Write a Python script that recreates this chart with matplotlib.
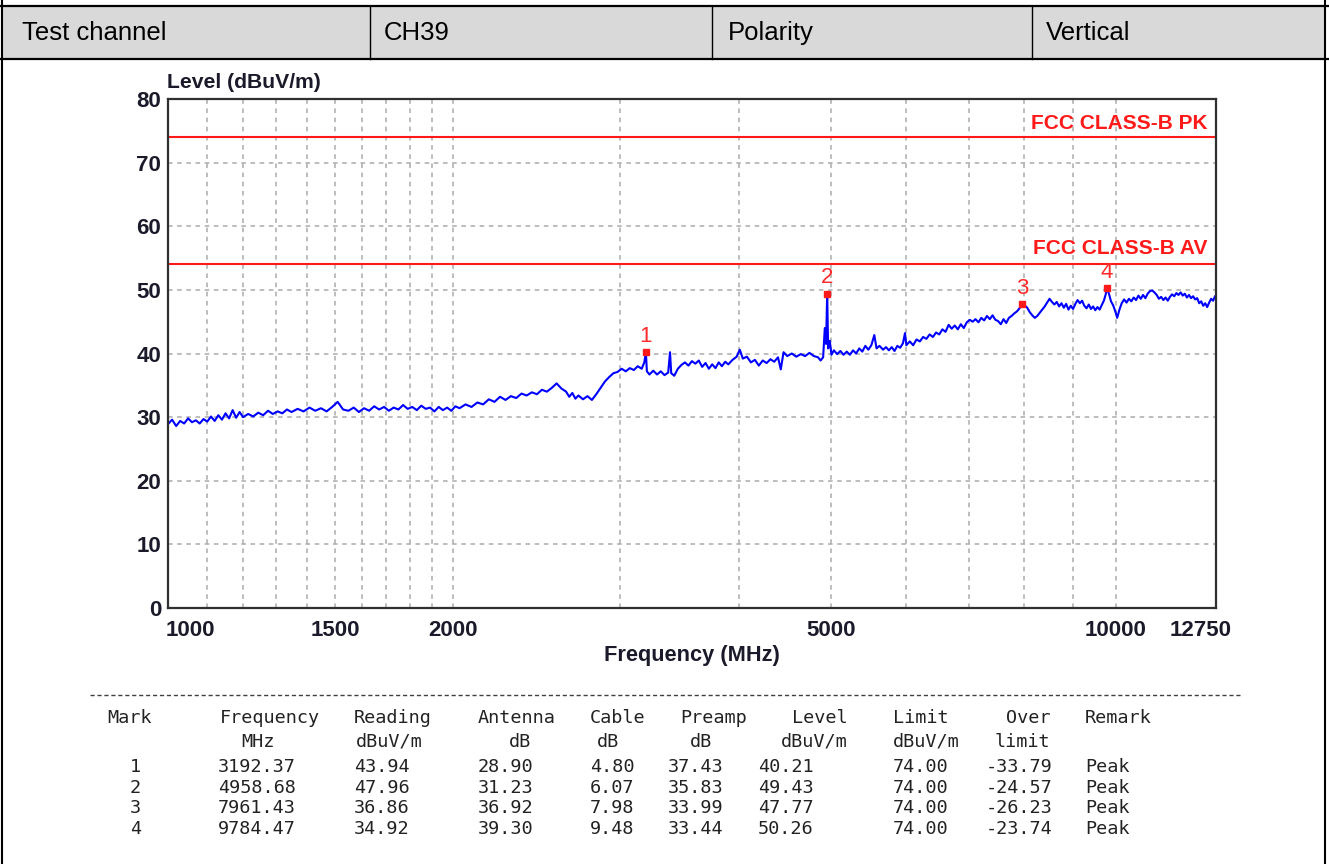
import matplotlib
matplotlib.use("Agg")
import matplotlib.pyplot as plt
from matplotlib.patches import Rectangle
from matplotlib.ticker import FixedLocator, NullFormatter
from matplotlib.transforms import ScaledTranslation, blended_transform_factory

W, H = 1329, 864

# header row of the report
header_cells = ["Test channel", "CH39", "Polarity", "Vertical"]

freq_mhz = [
    1000, 1010, 1020, 1030, 1040, 1050, 1060, 1070, 1080, 1090,
    1100, 1110, 1120, 1130, 1140, 1150, 1160, 1170, 1180, 1190,
    1200, 1215, 1230, 1245, 1260, 1275, 1290, 1305, 1320, 1335,
    1350, 1370, 1390, 1410, 1430, 1450, 1470, 1490, 1510, 1530,
    1550, 1570, 1590, 1610, 1630, 1650, 1670, 1690, 1710, 1730,
    1750, 1770, 1790, 1810, 1830, 1850, 1870, 1890, 1910, 1930,
    1950, 1970, 1990, 2010, 2030, 2060, 2090, 2120, 2150, 2180,
    2210, 2240, 2270, 2300, 2330, 2360, 2390, 2420, 2450, 2480,
    2510, 2540, 2570, 2600, 2630, 2650, 2670, 2690, 2710, 2740,
    2770, 2800, 2830, 2860, 2890, 2920, 2950, 2980, 3010, 3040,
    3070, 3100, 3130, 3160, 3180, 3192.37, 3200, 3220, 3250, 3280,
    3310, 3340, 3370, 3385, 3395, 3420, 3450, 3480, 3510, 3540,
    3570, 3600, 3630, 3660, 3690, 3720, 3750, 3780, 3810, 3840,
    3870, 3900, 3940, 3980, 4010, 4040, 4080, 4120, 4160, 4200,
    4240, 4280, 4320, 4360, 4400, 4430, 4460, 4500, 4550, 4600,
    4650, 4700, 4750, 4800, 4850, 4880, 4910, 4930, 4945, 4958.68,
    4970, 4990, 5010, 5040, 5080, 5120, 5160, 5200, 5240, 5280,
    5320, 5360, 5400, 5440, 5480, 5520, 5560, 5590, 5630, 5680,
    5720, 5760, 5800, 5840, 5880, 5920, 5960, 5990, 6010, 6060,
    6110, 6160, 6210, 6260, 6310, 6360, 6410, 6460, 6510, 6560,
    6610, 6660, 6710, 6760, 6810, 6860, 6910, 6960, 7010, 7060,
    7110, 7160, 7210, 7260, 7310, 7360, 7410, 7460, 7510, 7560,
    7610, 7660, 7710, 7760, 7810, 7860, 7910, 7961.43, 8010, 8060,
    8110, 8160, 8210, 8260, 8310, 8360, 8410, 8460, 8510, 8560,
    8610, 8660, 8710, 8760, 8810, 8860, 8910, 8960, 9010, 9060,
    9110, 9160, 9210, 9260, 9310, 9360, 9410, 9460, 9510, 9560,
    9610, 9660, 9710, 9750, 9784.47, 9830, 9880, 9930, 9980, 10030,
    10080, 10140, 10200, 10260, 10320, 10380, 10440, 10500, 10560, 10620,
    10680, 10740, 10800, 10860, 10920, 10980, 11040, 11100, 11160, 11220,
    11280, 11340, 11400, 11460, 11520, 11580, 11640, 11700, 11760, 11820,
    11880, 11940, 12000, 12060, 12120, 12180, 12240, 12300, 12360, 12420,
    12480, 12540, 12600, 12660, 12720, 12750,
]
level_dbuv = [
    28.9, 29.6, 28.6, 29.4, 29.0, 29.8, 29.2, 29.5, 29.0, 29.7,
    29.3, 30.1, 29.4, 30.3, 29.6, 30.6, 29.8, 31.1, 29.9, 30.8,
    30.0, 30.5, 30.1, 30.7, 30.3, 31.0, 30.5, 30.9, 30.6, 31.2,
    30.8, 31.3, 30.9, 31.5, 31.0, 31.4, 30.9, 31.6, 32.4, 31.2,
    31.0, 31.5, 30.8, 31.4, 31.0, 31.7, 31.2, 31.6, 31.0, 31.5,
    31.2, 31.9, 31.3, 31.6, 31.1, 31.8, 31.3, 31.5, 30.9, 31.6,
    31.1, 31.5, 31.0, 31.7, 31.4, 32.0, 31.6, 32.3, 32.0, 32.8,
    32.4, 33.2, 32.7, 33.3, 33.0, 33.7, 33.4, 33.9, 33.6, 34.3,
    34.0, 34.6, 35.3, 34.5, 34.0, 33.2, 33.8, 32.9, 33.4, 32.8,
    33.3, 32.7, 33.6, 34.6, 35.6, 36.3, 36.9, 37.1, 37.6, 37.2,
    37.7, 37.4, 38.0, 37.6, 38.6, 40.21, 37.2, 36.7, 37.3, 36.7,
    37.2, 36.6, 37.0, 40.2, 36.9, 36.5, 37.6, 38.2, 38.6, 38.1,
    38.8, 38.4, 38.9, 37.9, 38.5, 37.6, 38.3, 37.7, 38.6, 38.0,
    38.7, 38.3, 39.0, 39.5, 40.6, 39.2, 39.5, 38.6, 39.0, 38.1,
    38.9, 38.5, 39.1, 38.7, 39.4, 37.5, 40.2, 39.6, 40.0, 39.5,
    39.9, 39.6, 40.1, 39.6, 39.4, 38.9, 39.4, 44.0, 41.5, 49.43,
    40.8, 42.0, 39.8, 40.5, 39.9, 40.4, 39.8, 40.3, 39.8, 40.5,
    40.0, 40.8, 40.3, 41.2, 40.6, 41.3, 42.9, 40.8, 41.2, 40.6,
    41.0, 40.5, 41.0, 40.4, 41.2, 40.9, 41.6, 43.2, 41.3, 41.9,
    41.3, 42.2, 41.9, 42.6, 42.3, 43.0, 42.6, 43.3, 43.0, 43.8,
    43.4, 44.5, 43.9, 44.4, 43.8, 44.6, 44.0, 44.9, 45.3, 45.0,
    45.4, 44.9, 45.6, 45.2, 45.9, 45.4, 46.0, 45.3, 45.1, 44.6,
    45.4, 44.8, 45.6, 45.9, 46.3, 46.6, 47.1, 47.77, 47.6, 47.2,
    46.5, 46.0, 45.6, 45.9, 46.4, 46.9, 47.4, 48.0, 48.6, 48.1,
    47.7, 48.1, 47.4, 47.9, 47.2, 47.8, 46.9, 47.5, 47.0, 47.8,
    48.4, 47.9, 48.3, 47.5, 47.1, 47.7, 47.0, 47.4, 46.8, 47.3,
    46.9, 47.6, 48.3, 49.2, 50.26, 49.4, 48.2, 47.6, 46.7, 45.6,
    46.8, 47.9, 48.5, 48.0, 48.6, 48.2, 48.8, 48.4, 49.1, 48.6,
    49.2, 48.7, 49.4, 49.8, 49.9, 49.6, 49.2, 48.6, 48.9, 48.4,
    48.8, 48.3, 48.9, 49.3, 49.0, 49.5, 49.2, 49.6, 49.1, 49.4,
    48.8, 49.2, 48.7, 49.0, 48.5, 48.7, 47.9, 48.2, 47.5, 47.9,
    47.3, 48.0, 48.6, 48.3, 49.0, 49.1,
]

limit_pk = 74.0
limit_av = 54.0

x_ticks = [1000, 1500, 2000, 5000, 10000, 12750]
x_minor = [1100, 1200, 1300, 1400, 1600, 1700, 1800, 1900,
           3000, 4000, 6000, 7000, 8000, 9000]
y_ticks = [0, 10, 20, 30, 40, 50, 60, 70, 80]

# marker table
mark_no = [1, 2, 3, 4]
mark_freq = [3192.37, 4958.68, 7961.43, 9784.47]
mark_reading = [43.94, 47.96, 36.86, 34.92]
mark_antenna = [28.90, 31.23, 36.92, 39.30]
mark_cable = [4.80, 6.07, 7.98, 9.48]
mark_preamp = [37.43, 35.83, 33.99, 33.44]
mark_level = [40.21, 49.43, 47.77, 50.26]
mark_limit = [74.00, 74.00, 74.00, 74.00]
mark_over = [-33.79, -24.57, -26.23, -23.74]
mark_remark = ["Peak", "Peak", "Peak", "Peak"]

table_head1 = ["Mark", "Frequency", "Reading", "Antenna", "Cable",
               "Preamp", "Level", "Limit", "Over", "Remark"]
table_head2 = ["", "MHz", "dBuV/m", "dB", "dB", "dB", "dBuV/m", "dBuV/m", "limit", ""]

fig = plt.figure(figsize=(W / 100, H / 100), dpi=100)
fig.patch.set_facecolor("white")

# background layer in pixel coordinates
bg = fig.add_axes([0, 0, 1, 1])
bg.set_xlim(0, W)
bg.set_ylim(H, 0)
bg.axis("off")

bg.add_patch(Rectangle((2, 7), 1323, 51, facecolor="#d9d9d9", edgecolor="none"))
bg.plot([0, W], [6, 6], color="black", lw=1.6)
bg.plot([0, W], [58.5, 58.5], color="black", lw=1.6)
bg.plot([2, 2], [0, H], color="black", lw=1.5)
bg.plot([1325, 1325], [0, H], color="black", lw=1.5)
for xd in [370, 712, 1032]:
    bg.plot([xd, xd], [6, 58.5], color="black", lw=1.0)
for xh, txt in zip([22, 384, 728, 1046], header_cells):
    bg.text(xh, 33, txt, fontsize=18.5, family="Liberation Sans",
            va="center", ha="left", color="black")

bg.text(167, 83, "Level (dBuV/m)", fontsize=15.2, fontweight="bold",
        family="Liberation Sans", va="center", ha="left", color="#1a1a2a")
bg.text(692, 655, "Frequency (MHz)", fontsize=15.7, fontweight="bold",
        family="Liberation Sans", va="center", ha="center", color="#1a1a2a")

# spectrum plot
ax = fig.add_axes([168 / W, (H - 608) / H, (1216 - 168) / W, (608 - 99) / H])
ax.set_xscale("log")
ax.set_xlim(1000, 12750)
ax.set_ylim(0, 80)
ax.set_xticks(x_ticks, labels=[str(t) for t in x_ticks])
ax.xaxis.set_minor_locator(FixedLocator(x_minor))
ax.xaxis.set_minor_formatter(NullFormatter())
ax.set_yticks(y_ticks, labels=[str(t) for t in y_ticks])
ax.tick_params(which="both", length=0)
ax.tick_params(axis="x", pad=9)
ax.tick_params(axis="y", pad=5)
for lab in ax.get_xticklabels() + ax.get_yticklabels():
    lab.set_fontsize(16)
    lab.set_fontweight("bold")
    lab.set_family("Liberation Sans")
    lab.set_color("#1a1a2a")
xl = ax.get_xticklabels()
xl[0].set_transform(xl[0].get_transform() + ScaledTranslation(0.22, 0, fig.dpi_scale_trans))
xl[-1].set_transform(xl[-1].get_transform() + ScaledTranslation(-0.15, 0, fig.dpi_scale_trans))

ax.grid(True, which="both", axis="x", color="#ababab", linestyle=(0, (3, 3)), lw=1.1)
ax.grid(True, which="major", axis="y", color="#ababab", linestyle=(0, (3, 3)), lw=1.1)
for sp in ax.spines.values():
    sp.set_color("#303030")
    sp.set_linewidth(1.6)

ax.axhline(limit_pk, color="#ff1a1a", lw=1.5)
ax.axhline(limit_av, color="#ff1a1a", lw=1.5)
tr = blended_transform_factory(ax.transAxes, ax.transData)
ax.text(0.992, limit_pk + 2.2, "FCC CLASS-B PK", transform=tr, ha="right", va="center",
        color="#ff1a1a", fontsize=15, fontweight="bold", family="Liberation Sans")
ax.text(0.992, limit_av + 2.5, "FCC CLASS-B AV", transform=tr, ha="right", va="center",
        color="#ff1a1a", fontsize=15, fontweight="bold", family="Liberation Sans")

ax.plot(freq_mhz, level_dbuv, color="#0000ff", lw=1.5)
ax.plot(mark_freq, mark_level, "s", color="#ff1a1a", ms=4.5)
for n, f, lv in zip(mark_no, mark_freq, mark_level):
    ax.annotate(str(n), (f, lv), xytext=(0, 4), textcoords="offset points",
                ha="center", va="bottom", color="#ff2a2a", fontsize=16,
                family="Liberation Sans")

# marker table below the plot
bg.plot([90, 1240], [695, 695], color="#404040", lw=1.0, linestyle=(0, (3, 2)))
mono = dict(family="DejaVu Sans Mono", fontsize=13.3, color="#222222", va="center", ha="left")
head1_x = [107, 220, 354, 478, 590, 680, 792, 893, 1006, 1085]
head2_x = [0, 241, 356, 509, 597, 690, 781, 893, 995, 0]
for x, t in zip(head1_x, table_head1):
    bg.text(x, 718, t, **mono)
for x, t in zip(head2_x, table_head2):
    if t:
        bg.text(x, 742, t, **mono)

col_x = [130, 218, 354, 478, 590, 668, 758, 893, 986, 1085]
row_y = [767, 788, 808, 829]
for i, y in enumerate(row_y):
    cells = [str(mark_no[i]), f"{mark_freq[i]:.2f}", f"{mark_reading[i]:.2f}",
             f"{mark_antenna[i]:.2f}", f"{mark_cable[i]:.2f}", f"{mark_preamp[i]:.2f}",
             f"{mark_level[i]:.2f}", f"{mark_limit[i]:.2f}", f"{mark_over[i]:.2f}",
             mark_remark[i]]
    for x, t in zip(col_x, cells):
        bg.text(x, y, t, **mono)

fig.savefig("out.png", dpi=100)
